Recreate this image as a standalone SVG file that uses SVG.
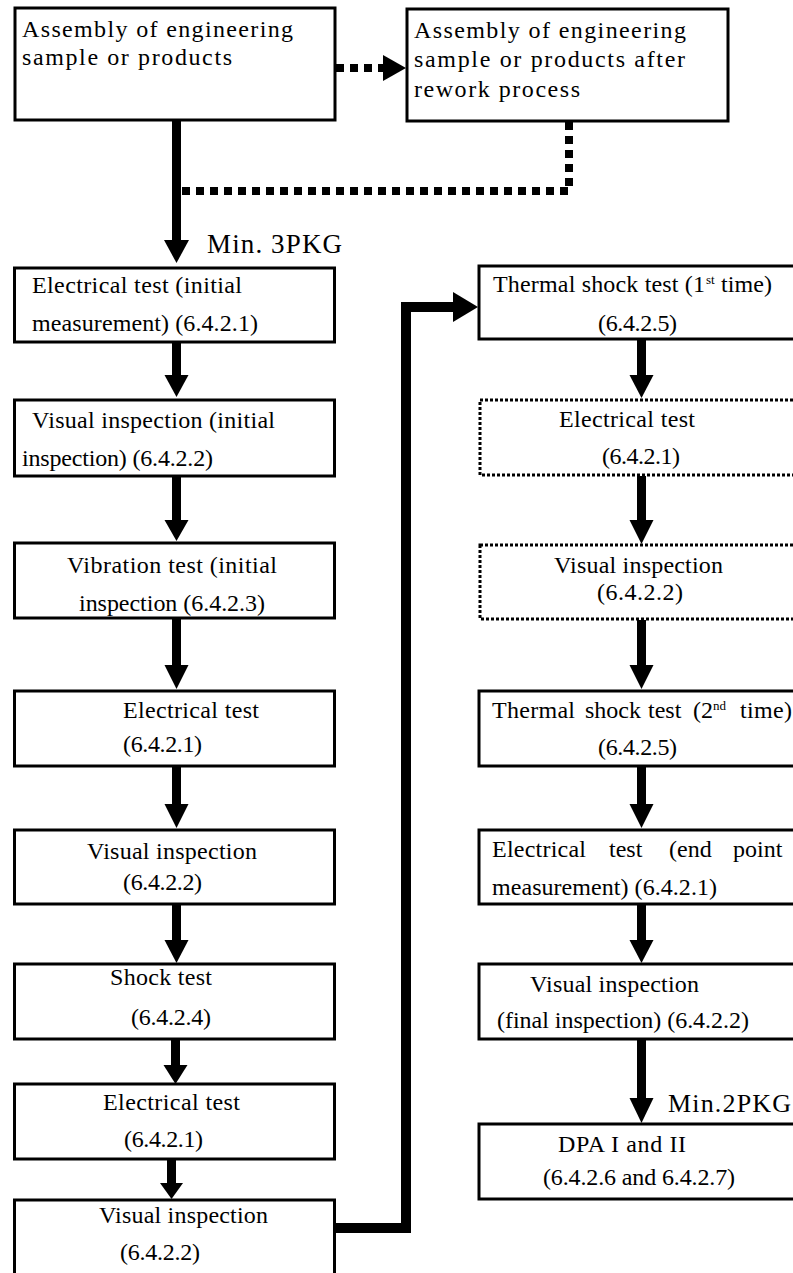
<svg xmlns="http://www.w3.org/2000/svg" width="793" height="1273" viewBox="0 0 793 1273">
<style>
.box{fill:#fff;stroke:#000;stroke-width:3}
.dbox{fill:#fff;stroke:#000;stroke-width:3;stroke-dasharray:3 2}
.t{font-family:"Liberation Serif","Times New Roman",serif;font-size:24px;fill:#000}
.sup{font-family:"Liberation Serif","Times New Roman",serif;font-size:13px;fill:#000}
.big{font-family:"Liberation Serif","Times New Roman",serif;font-size:27px;fill:#000}
.shaft{stroke:#000;stroke-width:9;fill:none}
.thick{stroke:#000;stroke-width:10;fill:none;stroke-linejoin:miter}
.dot{stroke:#000;stroke-width:8;fill:none;stroke-dasharray:8 6}
.head{fill:#000}
</style>
<rect width="793" height="1273" fill="#fff"/>
<g id="connectors">
<path class="dot" d="M336 68 H383"/>
<polygon class="head" points="383,55 406,68 383,81"/>
<path class="dot" d="M569 122 V191 H182"/>
<line class="shaft" x1="176.5" y1="121" x2="176.5" y2="241"/>
<polygon class="head" points="164,240 189,240 176.5,263"/>
<line class="shaft" x1="176.5" y1="343" x2="176.5" y2="376"/>
<polygon class="head" points="164.5,375 188.5,375 176.5,397"/>
<line class="shaft" x1="176.5" y1="477" x2="176.5" y2="521"/>
<polygon class="head" points="164.5,520 188.5,520 176.5,541"/>
<line class="shaft" x1="176.5" y1="619" x2="176.5" y2="666"/>
<polygon class="head" points="164.5,665 188.5,665 176.5,689"/>
<line class="shaft" x1="176.5" y1="767" x2="176.5" y2="805"/>
<polygon class="head" points="164.5,804 188.5,804 176.5,828"/>
<line class="shaft" x1="176.5" y1="905" x2="176.5" y2="941"/>
<polygon class="head" points="164.5,940 188.5,940 176.5,963"/>
<line class="shaft" x1="175.5" y1="1040" x2="175.5" y2="1066"/>
<polygon class="head" points="163.5,1065 187.5,1065 175.5,1084"/>
<line class="shaft" x1="171.5" y1="1160" x2="171.5" y2="1184"/>
<polygon class="head" points="160,1183 183,1183 171.5,1199"/>
<line class="shaft" x1="641.5" y1="340" x2="641.5" y2="376"/>
<polygon class="head" points="629.5,375 653.5,375 641.5,398"/>
<line class="shaft" x1="641.5" y1="476" x2="641.5" y2="521"/>
<polygon class="head" points="629.5,520 653.5,520 641.5,544"/>
<line class="shaft" x1="641.5" y1="620" x2="641.5" y2="666"/>
<polygon class="head" points="629.5,665 653.5,665 641.5,689"/>
<line class="shaft" x1="641.5" y1="767" x2="641.5" y2="805"/>
<polygon class="head" points="629.5,804 653.5,804 641.5,828"/>
<line class="shaft" x1="641.5" y1="905" x2="641.5" y2="941"/>
<polygon class="head" points="629.5,940 653.5,940 641.5,963"/>
<line class="shaft" x1="641.5" y1="1040" x2="641.5" y2="1099"/>
<polygon class="head" points="629.5,1098 653.5,1098 641.5,1123"/>
<path class="thick" d="M335 1228 H406 V307 H455"/>
<polygon class="head" points="453,292 478,307 453,322"/>
</g>
<g id="n-assembly">
<rect class="box" x="15" y="8" width="320" height="112"/>
<text class="t" x="22" y="37" textLength="271" lengthAdjust="spacing">Assembly of engineering</text>
<text class="t" x="22" y="65" textLength="210" lengthAdjust="spacing">sample or products</text>
</g>
<g id="n-rework">
<rect class="box" x="407" y="9" width="321" height="112"/>
<text class="t" x="414" y="38" textLength="272" lengthAdjust="spacing">Assembly of engineering</text>
<text class="t" x="414" y="67" textLength="271" lengthAdjust="spacing">sample or products after</text>
<text class="t" x="414" y="97" textLength="166" lengthAdjust="spacing">rework process</text>
</g>
<g id="l-min3">
<text class="big" x="207" y="253" textLength="135" lengthAdjust="spacing">Min. 3PKG</text>
</g>
<g id="n-elec-init">
<rect class="box" x="14.5" y="268" width="320" height="74"/>
<text class="t" x="32" y="293" textLength="210" lengthAdjust="spacing">Electrical test (initial</text>
<text class="t" x="32" y="331" textLength="226" lengthAdjust="spacing">measurement) (6.4.2.1)</text>
</g>
<g id="n-vis-init">
<rect class="box" x="14.5" y="400" width="320" height="76"/>
<text class="t" x="32" y="428" textLength="243" lengthAdjust="spacing">Visual inspection (initial</text>
<text class="t" x="22" y="466" textLength="191" lengthAdjust="spacing">inspection) (6.4.2.2)</text>
</g>
<g id="n-vib">
<rect class="box" x="14.5" y="543" width="320" height="75"/>
<text class="t" x="67" y="573" textLength="210" lengthAdjust="spacing">Vibration test (initial</text>
<text class="t" x="79" y="611" textLength="186" lengthAdjust="spacing">inspection (6.4.2.3)</text>
</g>
<g id="n-elec-2">
<rect class="box" x="14.5" y="691" width="320" height="75"/>
<text class="t" x="123" y="718" textLength="136" lengthAdjust="spacing">Electrical test</text>
<text class="t" x="123" y="752" textLength="79" lengthAdjust="spacing">(6.4.2.1)</text>
</g>
<g id="n-vis-2">
<rect class="box" x="14.5" y="830" width="320" height="74"/>
<text class="t" x="87" y="859" textLength="170" lengthAdjust="spacing">Visual inspection</text>
<text class="t" x="123" y="890" textLength="79" lengthAdjust="spacing">(6.4.2.2)</text>
</g>
<g id="n-shock">
<rect class="box" x="14.5" y="964" width="320" height="75"/>
<text class="t" x="110" y="985" textLength="102" lengthAdjust="spacing">Shock test</text>
<text class="t" x="131" y="1025" textLength="80" lengthAdjust="spacing">(6.4.2.4)</text>
</g>
<g id="n-elec-3">
<rect class="box" x="14.5" y="1084" width="320" height="75"/>
<text class="t" x="103" y="1110" textLength="137" lengthAdjust="spacing">Electrical test</text>
<text class="t" x="124" y="1147" textLength="79" lengthAdjust="spacing">(6.4.2.1)</text>
</g>
<g id="n-vis-3">
<rect class="box" x="14.5" y="1200" width="320" height="80"/>
<text class="t" x="99" y="1223" textLength="169" lengthAdjust="spacing">Visual inspection</text>
<text class="t" x="120" y="1260" textLength="80" lengthAdjust="spacing">(6.4.2.2)</text>
</g>
<g id="n-thermal-1">
<rect class="box" x="479" y="266" width="330" height="73"/>
<text class="t" x="493" y="292" textLength="212" lengthAdjust="spacing">Thermal shock test (1</text>
<text class="sup" x="706" y="284">st</text>
<text class="t" x="721" y="292" textLength="51" lengthAdjust="spacing">time)</text>
<text class="t" x="598" y="331" textLength="79" lengthAdjust="spacing">(6.4.2.5)</text>
</g>
<g id="n-elec-dotted">
<rect class="dbox" x="480" y="400" width="330" height="75"/>
<text class="t" x="559" y="427" textLength="136" lengthAdjust="spacing">Electrical test</text>
<text class="t" x="602" y="464" textLength="78" lengthAdjust="spacing">(6.4.2.1)</text>
</g>
<g id="n-vis-dotted">
<rect class="dbox" x="480" y="545" width="330" height="74"/>
<text class="t" x="554" y="573" textLength="169" lengthAdjust="spacing">Visual inspection</text>
<text class="t" x="597" y="600" textLength="86" lengthAdjust="spacing">(6.4.2.2)</text>
</g>
<g id="n-thermal-2">
<rect class="box" x="479" y="691" width="330" height="75"/>
<text class="t" x="492" y="718" textLength="83" lengthAdjust="spacing">Thermal</text>
<text class="t" x="585" y="718">shock</text>
<text class="t" x="648" y="718">test</text>
<text class="t" x="693" y="718">(2</text>
<text class="sup" x="713" y="710">nd</text>
<text class="t" x="740" y="718" textLength="52" lengthAdjust="spacing">time)</text>
<text class="t" x="598" y="755" textLength="79" lengthAdjust="spacing">(6.4.2.5)</text>
</g>
<g id="n-elec-end">
<rect class="box" x="479" y="830" width="330" height="74"/>
<text class="t" x="492" y="857" textLength="94" lengthAdjust="spacing">Electrical</text>
<text class="t" x="609" y="857">test</text>
<text class="t" x="669" y="857">(end</text>
<text class="t" x="733" y="857">point</text>
<text class="t" x="492" y="895" textLength="225" lengthAdjust="spacing">measurement) (6.4.2.1)</text>
</g>
<g id="n-vis-final">
<rect class="box" x="479" y="964" width="330" height="75"/>
<text class="t" x="530" y="992" textLength="169" lengthAdjust="spacing">Visual inspection</text>
<text class="t" x="497" y="1028" textLength="252" lengthAdjust="spacing">(final inspection) (6.4.2.2)</text>
</g>
<g id="l-min2">
<text class="big" x="668" y="1112" style="font-size:26px" textLength="123" lengthAdjust="spacing">Min.2PKG</text>
</g>
<g id="n-dpa">
<rect class="box" x="479" y="1124" width="330" height="75"/>
<text class="t" x="558" y="1152" textLength="128" lengthAdjust="spacing">DPA I and II</text>
<text class="t" x="543" y="1185" textLength="192" lengthAdjust="spacing">(6.4.2.6 and 6.4.2.7)</text>
</g>
</svg>
